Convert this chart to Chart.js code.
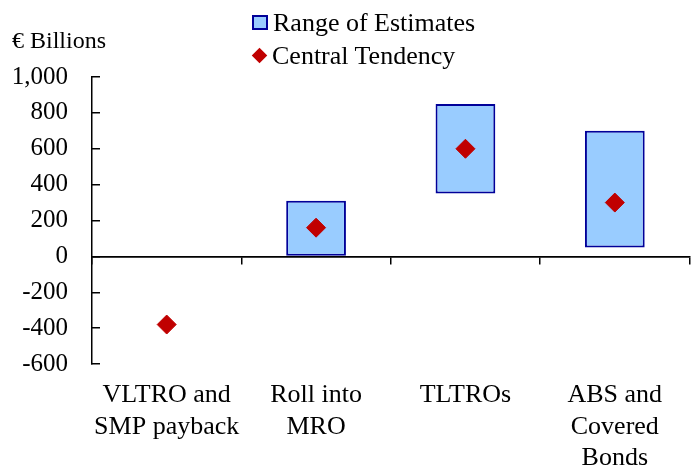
<!DOCTYPE html>
<html>
<head>
<meta charset="utf-8">
<script src="https://cdn.jsdelivr.net/npm/chart.js@4"></script>
<style>
  body { margin: 0; background: #fff; }
  #wrap { position: relative; width: 700px; height: 467px; font-family: "Liberation Serif", "Times New Roman", serif; }
  #unit { position: absolute; left: 12px; top: 27px; font-size: 24px; color: #000; }
  #legend { position: absolute; left: 252px; top: 6px; font-size: 26px; color: #000; }
  .item { display: flex; align-items: center; height: 33px; }
  .box { width: 12px; height: 11px; border: 2px solid #000099; background: #99CCFF; margin-right: 5px; }
  .dia { width: 11px; height: 11px; background: #C00000; transform: rotate(45deg); margin: 0 7px 0 2px; }
</style>
</head>
<body>
<div id="wrap">
  <canvas id="chart" width="700" height="467"></canvas>
  <div id="unit">€ Billions</div>
  <div id="legend"></div>
</div>
<script>
// categorías y valores (miles de millones de euros)
const categorias = [
  ['VLTRO and', 'SMP payback'],
  ['Roll into', 'MRO'],
  ['TLTROs'],
  ['ABS and', 'Covered', 'Bonds']
];
const rangoMin = [null, 0, 350, 50];
const rangoMax = [null, 310, 850, 700];
const tendencia = [-380, 160, 600, 300];
const ticksY = [-600, -400, -200, 0, 200, 400, 600, 800, 1000];

const AZUL_CLARO = '#99CCFF';
const AZUL_OSCURO = '#000099';
const ROJO = '#C00000';

const ctx = document.getElementById('chart').getContext('2d');

const chart = new Chart(ctx, {
  data: {
    labels: categorias,
    datasets: [
      {
        type: 'bar',
        label: 'Range of Estimates',
        data: rangoMin.map((v, i) => (v === null ? null : [v, rangoMax[i]])),
        backgroundColor: AZUL_CLARO,
        borderColor: AZUL_OSCURO,
        borderWidth: 2,
        borderSkipped: false,
        barPercentage: 1,
        categoryPercentage: 0.4,
        order: 2,
      },
      {
        type: 'line',
        label: 'Central Tendency',
        data: tendencia,
        showLine: false,
        pointStyle: 'rectRot',
        pointRadius: 9.5,
        pointHoverRadius: 9.5,
        backgroundColor: ROJO,
        borderColor: ROJO,
        borderWidth: 1,
        order: 1,
      },
    ],
  },
  options: {
    responsive: false,
    animation: false,
    layout: { padding: { top: 77, right: 6, left: 0, bottom: 0 } },
    plugins: {
      legend: { display: false },
      tooltip: { enabled: false },
    },
    scales: {
      x: {
        type: 'category',
        grid: { display: false },
        border: { display: false },
        afterFit: (scale) => { scale.height = 103; scale.paddingLeft = 0; scale.paddingRight = 0; },
        ticks: {
          color: '#000',
          font: { family: 'Liberation Serif', size: 26 },
          padding: 8,
          maxRotation: 0,
          autoSkip: false,
        },
      },
      // eje auxiliar que cruza en cero, solo para las marcas entre categorías
      x0: {
        type: 'category',
        position: { y: 0 },
        labels: categorias,
        offset: true,
        grid: {
          offset: true,
          drawOnChartArea: false,
          tickLength: 7,
          tickColor: '#000',
          lineWidth: 1.5,
        },
        border: { color: '#000', width: 1.5 },
        ticks: { display: false },
      },
      y: {
        min: -600,
        max: 1000,
        afterBuildTicks: (scale) => {
          scale.ticks = ticksY.map((v) => ({ value: v }));
        },
        afterFit: (scale) => { scale.width = 92; },
        grid: {
          color: (c) => (c.tick && c.tick.value === 0 ? '#000' : 'rgba(0,0,0,0)'),
          lineWidth: 1.5,
          tickLength: -8,
          tickColor: '#000',
        },
        border: { color: '#000', width: 1.5 },
        ticks: {
          color: '#000',
          font: { family: 'Liberation Serif', size: 25 },
          padding: 32,
          callback: (v) => v.toLocaleString('en-US'),
        },
      },
    },
  },
});

// leyenda en HTML a partir de los datasets
const leyenda = document.getElementById('legend');
chart.data.datasets.forEach((ds) => {
  const fila = document.createElement('div');
  fila.className = 'item';
  const marca = document.createElement('span');
  marca.className = ds.type === 'bar' ? 'box' : 'dia';
  const texto = document.createElement('span');
  texto.textContent = ds.label;
  fila.appendChild(marca);
  fila.appendChild(texto);
  leyenda.appendChild(fila);
});
</script>
</body>
</html>
